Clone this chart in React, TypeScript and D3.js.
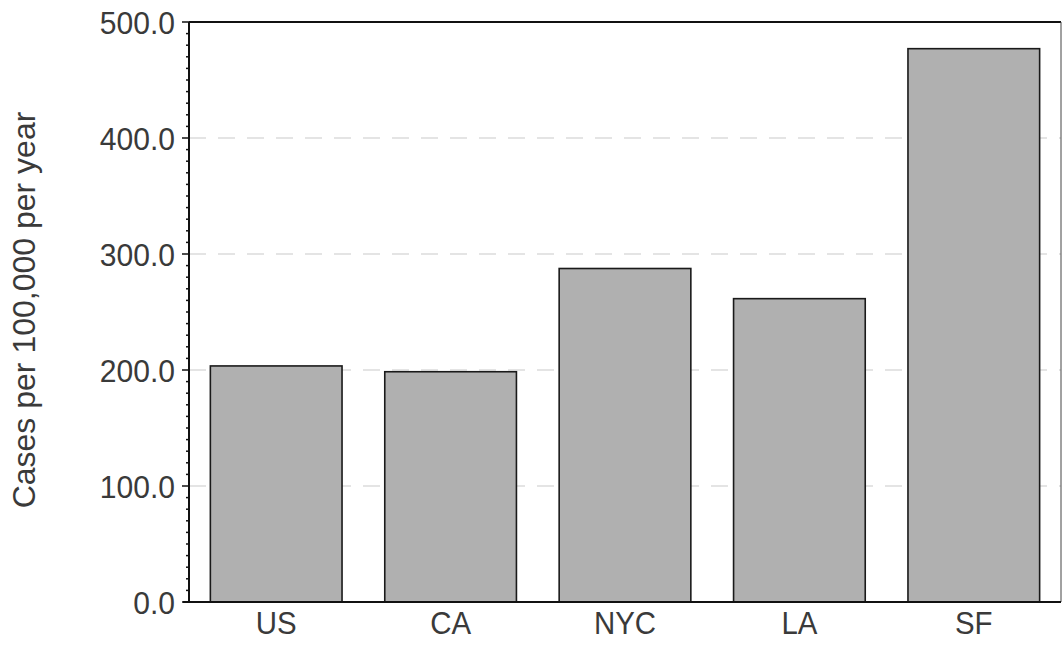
import React from "react";
import * as d3 from "d3";

const categories = ["US", "CA", "NYC", "LA", "SF"];
const values = [203.5, 198.5, 287.5, 261.5, 477];
const majorTicks = [0, 100, 200, 300, 400, 500];
const gridTicks = [100, 200, 300, 400];
const yLabel = "Cases per 100,000 per year";

const W = 1062;
const H = 645;
const M = { left: 189, right: 1061, top: 22, bottom: 602 };
const FONT = "'Liberation Sans', Arial, Helvetica, sans-serif";
const TEXT_COLOR = "#3a3a3a";

export default function App() {
  const x = d3
    .scaleBand<string>()
    .domain(categories)
    .range([M.left, M.right])
    .paddingInner(0.245)
    .paddingOuter(0.1225);
  const y = d3.scaleLinear().domain([0, 500]).range([M.bottom, M.top]);
  const minorTicks = d3.range(0, 501, 10).filter((v) => v % 100 !== 0);

  return (
    <svg
      width={W}
      height={H}
      style={{ position: "absolute", left: 0, top: 0, background: "#fff" }}
    >
      {gridTicks.map((t) => (
        <line
          key={"g" + t}
          x1={M.left}
          x2={M.right}
          y1={y(t)}
          y2={y(t)}
          stroke="#dcdcdc"
          strokeWidth={1.5}
          strokeDasharray="17 12"
        />
      ))}
      {categories.map((c, i) => (
        <rect
          key={c}
          x={x(c)}
          y={y(values[i])}
          width={x.bandwidth()}
          height={y(0) - y(values[i])}
          fill="#b0b0b0"
          stroke="#1a1a1a"
          strokeWidth={1.6}
        />
      ))}
      {/* frame */}
      <line x1={M.left} x2={M.right} y1={M.top} y2={M.top} stroke="#111" strokeWidth={2} />
      <line x1={M.right} x2={M.right} y1={M.top} y2={M.bottom} stroke="#444" strokeWidth={1} />
      <line x1={M.left - 6} x2={M.right} y1={M.bottom} y2={M.bottom} stroke="#111" strokeWidth={2} />
      <line x1={M.left} x2={M.left} y1={M.top} y2={M.bottom} stroke="#111" strokeWidth={2} />
      {minorTicks.map((t) => (
        <line key={"m" + t} x1={M.left - 3} x2={M.left} y1={y(t)} y2={y(t)} stroke="#111" strokeWidth={1.5} />
      ))}
      {majorTicks.map((t) => (
        <g key={"t" + t}>
          <line x1={M.left - 7} x2={M.left} y1={y(t)} y2={y(t)} stroke="#111" strokeWidth={1.5} />
          <text
            transform={`translate(175,${y(t) + 11.5}) scale(0.94,1)`}
            textAnchor="end"
            fontFamily={FONT}
            fontSize={32}
            fill={TEXT_COLOR}
          >
            {d3.format(".1f")(t)}
          </text>
        </g>
      ))}
      {categories.map((c) => (
        <text
          key={"l" + c}
          transform={`translate(${(x(c) as number) + x.bandwidth() / 2},634) scale(0.92,1)`}
          textAnchor="middle"
          fontFamily={FONT}
          fontSize={32}
          fill={TEXT_COLOR}
        >
          {c}
        </text>
      ))}
      <text
        transform={`translate(35,310) rotate(-90)`}
        textAnchor="middle"
        fontFamily={FONT}
        fontSize={32}
        fill={TEXT_COLOR}
      >
        {yLabel}
      </text>
    </svg>
  );
}
